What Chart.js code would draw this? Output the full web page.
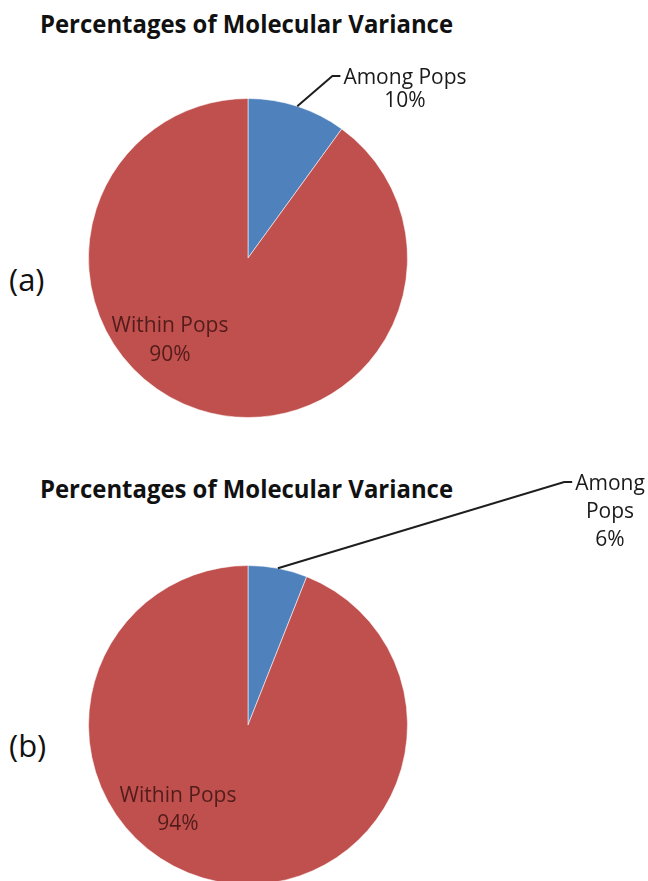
<!DOCTYPE html>
<html>
<head>
<meta charset="utf-8">
<title>Percentages of Molecular Variance</title>
<script src="https://cdn.jsdelivr.net/npm/chart.js@4.4.1/dist/chart.umd.min.js"></script>
<style>
  html, body { margin: 0; padding: 0; background: #fff; overflow: hidden; }
  body { width: 648px; height: 881px; position: relative; }
  .title { position: absolute; left: 40px; font: bold 25px 'Open Sans', sans-serif; line-height: 1;
           color: #111; white-space: nowrap; transform-origin: 0 0; }
  .panel { position: absolute; left: 9px; font: 31px 'Open Sans', sans-serif; line-height: 1; color: #111; }
  canvas { position: absolute; left: 0; }
</style>
</head>
<body>
<div class="title" id="titleA" style="top:11px">Percentages of Molecular Variance</div>
<div class="title" id="titleB" style="top:476px">Percentages of Molecular Variance</div>
<div class="panel" style="top:263.5px">(a)</div>
<div class="panel" style="top:729.5px">(b)</div>
<canvas id="pieA" width="648" height="440" style="top:0"></canvas>
<canvas id="pieB" width="648" height="460" style="top:440px"></canvas>

<script>
// данные
const categories = ['Among Pops', 'Within Pops'];
const valuesA = [10, 90];
const valuesB = [6, 94];
const colors = ['#4F81BD', '#C0504D'];

// подписи секторов: смещение от центра круга
const labelFont = "21px 'Open Sans', sans-serif";
const labelsA = [
  { dx: 157, dy: -174, lineHeight: 23, color: '#1a1a1a', leader: true, wrap: false },
  { dx: -78, dy: 74, lineHeight: 29, color: '#521c1b', leader: false, wrap: false }
];
const labelsB = [
  { dx: 362, dy: -235, lineHeight: 28, color: '#1a1a1a', leader: true, wrap: true },
  { dx: -70, dy: 77, lineHeight: 28, color: '#521c1b', leader: false, wrap: false }
];

const pieLabels = {
  id: 'pieLabels',
  afterDatasetsDraw(chart, args, opts) {
    const ctx = chart.ctx;
    const meta = chart.getDatasetMeta(0);
    const values = chart.data.datasets[0].data;
    const total = values.reduce((a, b) => a + b, 0);
    meta.data.forEach((arc, i) => {
      const spec = opts.items[i];
      const p = arc.getProps(['x', 'y', 'startAngle', 'endAngle', 'outerRadius'], true);
      const name = chart.data.labels[i];
      const pct = Math.round(values[i] / total * 100) + '%';
      const lines = (spec.wrap ? name.split(' ') : [name]).concat(pct);
      ctx.save();
      ctx.font = labelFont;
      ctx.fillStyle = spec.color;
      ctx.textAlign = 'center';
      ctx.textBaseline = 'alphabetic';
      const tx = p.x + spec.dx;
      const ty = p.y + spec.dy;
      lines.forEach((t, k) => ctx.fillText(t, tx, ty + k * spec.lineHeight));
      if (spec.leader) {
        // линия-выноска от середины дуги
        const mid = (p.startAngle + p.endAngle) / 2;
        const sx = p.x + Math.cos(mid) * p.outerRadius;
        const sy = p.y + Math.sin(mid) * p.outerRadius;
        const w = ctx.measureText(lines[0]).width;
        const ex = tx - w / 2 - 3;
        const ey = ty - 8;
        ctx.strokeStyle = '#1e1e1e';
        ctx.lineWidth = 2;
        ctx.beginPath();
        ctx.moveTo(sx, sy);
        ctx.lineTo(ex - 8, ey);
        ctx.lineTo(ex, ey);
        ctx.stroke();
      }
      ctx.restore();
    });
  }
};

function makePie(id, values, labels, padding) {
  const ctx = document.getElementById(id).getContext('2d');
  return new Chart(ctx, {
    type: 'pie',
    data: {
      labels: categories,
      datasets: [{
        data: values,
        backgroundColor: colors,
        borderColor: 'rgba(255,255,255,0.55)',
        borderWidth: 1
      }]
    },
    options: {
      responsive: false,
      animation: false,
      layout: { padding: padding },
      plugins: {
        legend: { display: false },
        tooltip: { enabled: false },
        pieLabels: { items: labels }
      }
    },
    plugins: [pieLabels]
  });
}

makePie('pieA', valuesA, labelsA, { top: 98, bottom: 22, left: 88, right: 240 });
makePie('pieB', valuesB, labelsB, { top: 125, bottom: 15, left: 88, right: 240 });

// подгоняем ширину заголовков
['titleA', 'titleB'].forEach(id => {
  const el = document.getElementById(id);
  const w = el.getBoundingClientRect().width;
  el.style.transform = 'scaleX(' + (413 / w) + ')';
});
</script>
</body>
</html>
